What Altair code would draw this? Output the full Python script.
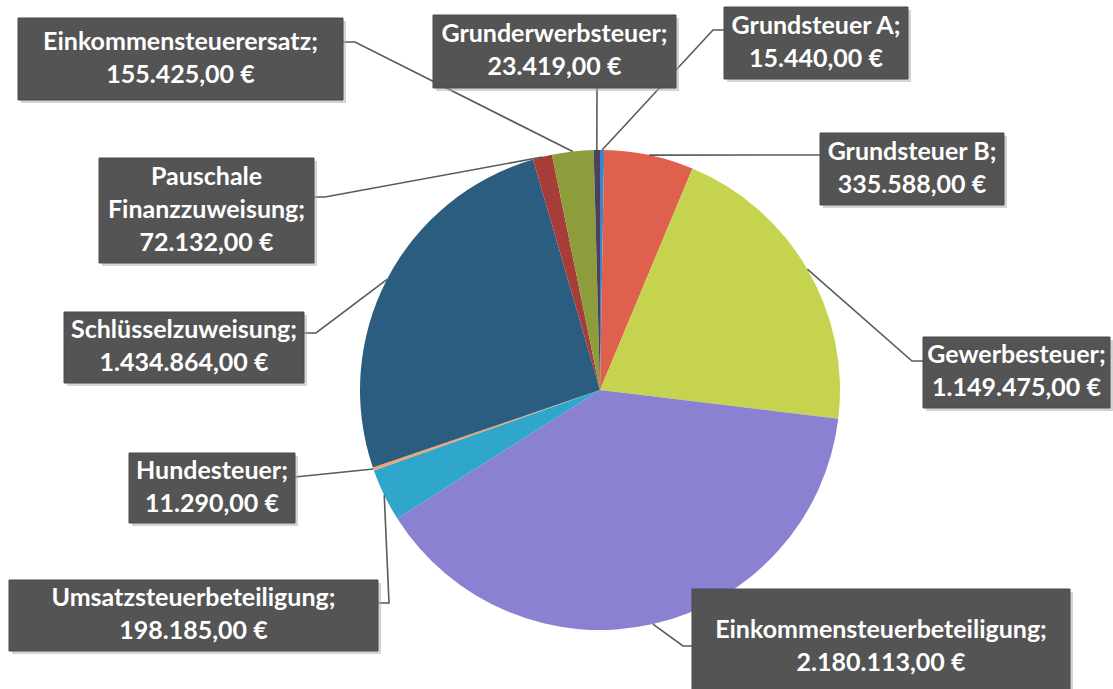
import math
import altair as alt
import pandas as pd

# ---------------- data ----------------
categories = [
    "Grundsteuer A", "Grundsteuer B", "Gewerbesteuer",
    "Einkommensteuerbeteiligung", "Umsatzsteuerbeteiligung", "Hundesteuer",
    "Schlüsselzuweisung", "Pauschale Finanzzuweisung",
    "Einkommensteuerersatz", "Grunderwerbsteuer",
]
values = [15440, 335588, 1149475, 2180113, 198185, 11290,
          1434864, 72132, 155425, 23419]
# label name lines (wrapping of the category names as in the picture)
name_lines = [
    ["Grundsteuer A;"], ["Grundsteuer B;"], ["Gewerbesteuer;"],
    ["Einkommensteuerbeteiligung;"], ["Umsatzsteuerbeteiligung;"], ["Hundesteuer;"],
    ["Schlüsselzuweisung;"], ["Pauschale", "Finanzzuweisung;"],
    ["Einkommensteuerersatz;"], ["Grunderwerbsteuer;"],
]

# ---------------- styles / layout ----------------
colors = ["#3d84c6", "#de604d", "#c6d34e", "#8b81d3", "#2fa6cc", "#f0a36e",
          "#2b5d80", "#a63d38", "#8d9d3b", "#4a4160"]
W, H = 1113, 689
CX, CY, R = 600, 390, 240
LH = 33
box_x1 = [724, 820, 923, 692, 9, 129, 64, 99, 18, 433]
box_x2 = [908, 1004, 1110, 1070, 378, 295, 304, 314, 343, 676]
box_y1 = [7, 133, 337, 589, 580, 453, 312, 158, 18, 15]
box_y2 = [79, 205, 408, 705, 651, 523, 383, 263, 100, 88]
leader_points = [
    [(713, 30), (724, 30)],
    [(820, 155)],
    [(912, 361), (923, 361)],
    [(683, 646), (692, 646)],
    [(389, 603), (378, 603)],
    [(295, 477)],
    [(316, 333), (304, 333)],
    [(325, 197), (314, 197)],
    [(355, 42), (343, 42)],
    [(597, 88)],
]


def de_money(v):
    s = f"{v:,.2f}".replace(",", "X").replace(".", ",").replace("X", ".")
    return s + " €"


pie_df = pd.DataFrame({"category": categories, "value": values,
                       "idx": list(range(len(values)))})

n_lines = [len(n) + 1 for n in name_lines]
label_df = pd.DataFrame({
    "category": categories,
    "x1": box_x1, "x2": box_x2, "y1": box_y1, "y2": box_y2,
    "label": ["\n".join(n + [de_money(v)]) for n, v in zip(name_lines, values)],
    "n": n_lines,
})
label_df["cx"] = (label_df.x1 + label_df.x2) / 2
label_df["ty"] = (label_df.y1 + label_df.y2) / 2 - (label_df.n - 1) * LH / 2 - 1
label_df["sx1"] = label_df.x1 + 3
label_df["sx2"] = label_df.x2 + 3
label_df["sy1"] = label_df.y1 + 3
label_df["sy2"] = label_df.y2 + 3

# leader lines: start at the slice's mid-angle on the pie edge
total = sum(values)
rows = []
cum = 0
for i, (c, v) in enumerate(zip(categories, values)):
    mid = (cum + v / 2) / total * 2 * math.pi
    cum += v
    pts = [(CX + R * math.sin(mid), CY - R * math.cos(mid))] + leader_points[i]
    for k, (px, py) in enumerate(pts):
        rows.append({"category": c, "k": k, "px": px, "py": py})
lead_df = pd.DataFrame(rows)

xs = alt.Scale(domain=[0, W], range=[0, W])
ys = alt.Scale(domain=[0, H], range=[0, H])

pie = alt.Chart(pie_df).mark_arc(outerRadius=R, stroke=None).encode(
    theta=alt.Theta("value:Q", stack=True),
    color=alt.Color("category:N", scale=alt.Scale(domain=categories, range=colors), legend=None),
    order=alt.Order("idx:Q", sort="ascending"),
    x=alt.value(CX), y=alt.value(CY),
)

leaders = alt.Chart(lead_df).mark_line(color="#5a5a5a", strokeWidth=1.6).encode(
    x=alt.X("px:Q", scale=xs, axis=None),
    y=alt.Y("py:Q", scale=ys, axis=None),
    detail="category:N",
    order="k:Q",
)

shadow = alt.Chart(label_df).mark_rect(color="#b0b0b0", opacity=0.55).encode(
    x=alt.X("sx1:Q", scale=xs, axis=None), x2="sx2:Q",
    y=alt.Y("sy1:Q", scale=ys, axis=None), y2="sy2:Q",
)

boxes = alt.Chart(label_df).mark_rect(color="#545454", stroke="#4a4a4a", strokeWidth=1).encode(
    x=alt.X("x1:Q", scale=xs, axis=None), x2="x2:Q",
    y=alt.Y("y1:Q", scale=ys, axis=None), y2="y2:Q",
)

texts = alt.Chart(label_df).mark_text(
    color="white", font="Lato", fontWeight="bold", fontSize=25,
    lineBreak="\n", lineHeight=LH, align="center", baseline="middle",
).encode(
    x=alt.X("cx:Q", scale=xs, axis=None),
    y=alt.Y("ty:Q", scale=ys, axis=None),
    text="label:N",
)

chart = alt.layer(pie, leaders, shadow, boxes, texts).properties(
    width=W, height=H, padding=0,
    autosize=alt.AutoSizeParams(type="none"),
    background="white",
).configure_view(stroke=None)

chart.save("out.html", embed_options={"renderer": "svg", "actions": False})
